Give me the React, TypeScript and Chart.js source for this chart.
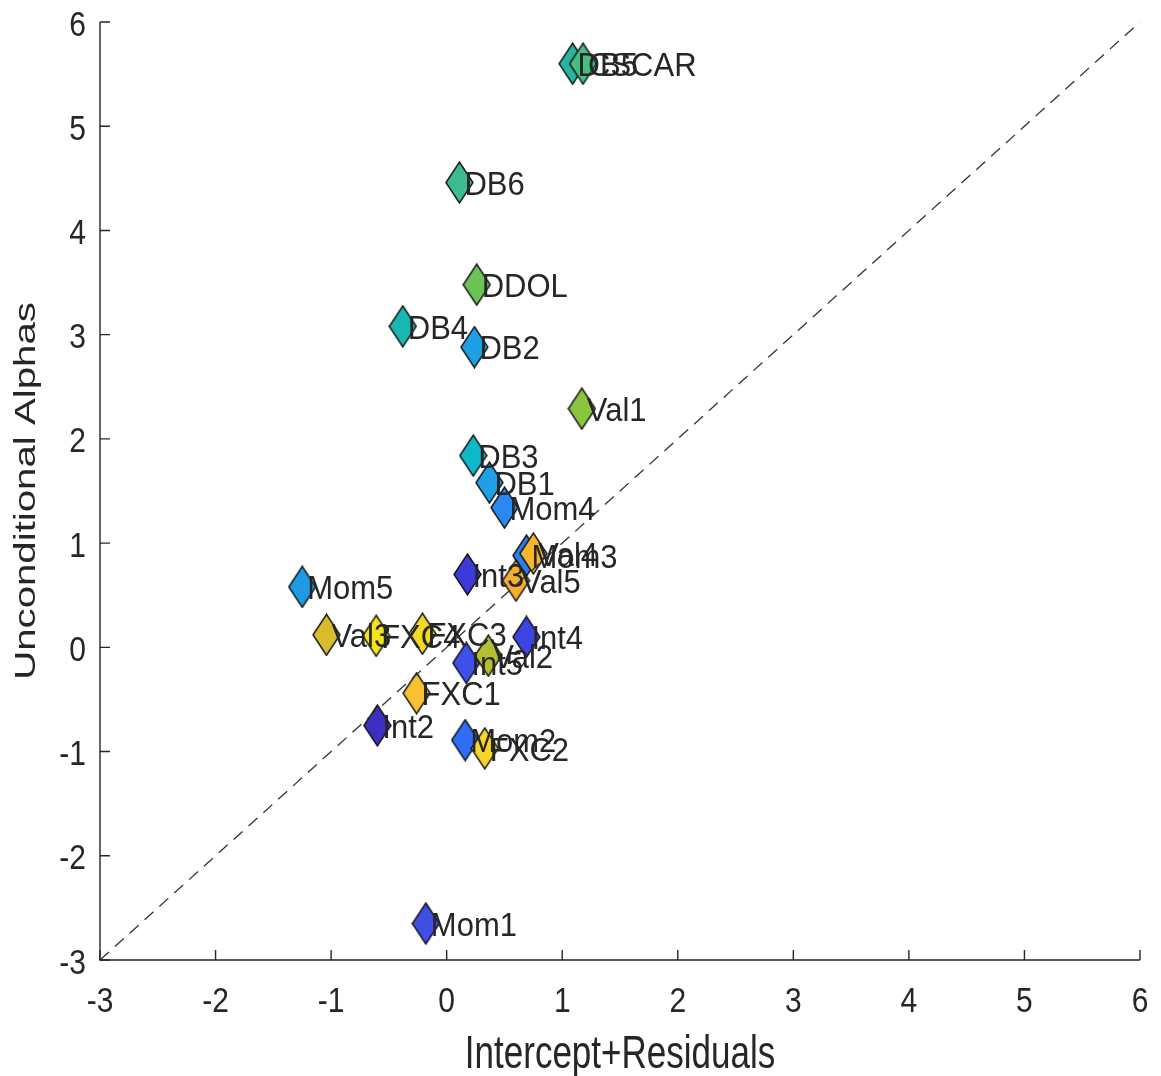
import React, { useEffect, useRef } from "react";
import { Chart, registerables } from "chart.js";

Chart.register(...registerables);

const names = [
  "DB1", "DB2", "DB3", "DB4", "DB5", "DB6", "DDOL", "CSCAR",
  "Mom1", "Mom2", "Mom3", "Mom4", "Mom5",
  "Int2", "Int3", "Int4", "Int5",
  "Val1", "Val2", "Val3", "Val4", "Val5",
  "FXC1", "FXC2", "FXC3", "FXC4",
];
const xValues = [
  0.37, 0.24, 0.23, -0.38, 1.09, 0.11, 0.26, 1.18,
  -0.18, 0.16, 0.69, 0.5, -1.25,
  -0.6, 0.18, 0.69, 0.17,
  1.17, 0.36, -1.04, 0.75, 0.6,
  -0.26, 0.33, -0.21, -0.61,
];
const yValues = [
  1.58, 2.88, 1.84, 3.08, 5.6, 4.46, 3.48, 5.6,
  -2.65, -0.89, 0.88, 1.34, 0.58,
  -0.75, 0.7, 0.1, -0.15,
  2.29, -0.08, 0.12, 0.9, 0.64,
  -0.44, -0.97, 0.13, 0.11,
];
const markerColors = [
  "#1e9fe6", "#1d9fe3", "#0db8c8", "#19b7b2", "#27b5a0", "#3bbb8e", "#6cc456", "#48bf80",
  "#3f4fe3", "#2f6ef2", "#2a80ea", "#2a88f0", "#1f9be2",
  "#3c2fc2", "#3c3ad8", "#3e44e2", "#3e50ea",
  "#8bc540", "#b4bf32", "#d8bc2e", "#f6b530", "#f8ae32",
  "#f8c032", "#f6d52a", "#f2d926", "#f5e41c",
];
const tickValues = [-3, -2, -1, 0, 1, 2, 3, 4, 5, 6];
const diagonal = [-3, 6];
const xTitle = "Intercept+Residuals";
const yTitle = "Unconditional Alphas";

const FONT = '"Liberation Sans", Arial, sans-serif';
const TEXT_COLOR = "#262626";

function makeDiamond(color: string): HTMLCanvasElement {
  const w = 29;
  const h = 43;
  const c = document.createElement("canvas");
  c.width = w;
  c.height = h;
  const ctx = c.getContext("2d")!;
  ctx.beginPath();
  ctx.moveTo(w / 2, 1);
  ctx.lineTo(w - 1, h / 2);
  ctx.lineTo(w / 2, h - 1);
  ctx.lineTo(1, h / 2);
  ctx.closePath();
  ctx.fillStyle = color;
  ctx.fill();
  ctx.strokeStyle = "#111111";
  ctx.lineWidth = 1.4;
  ctx.stroke();
  return c;
}

function drawText(
  ctx: CanvasRenderingContext2D,
  text: string,
  x: number,
  y: number,
  size: number,
  sy: number,
  align: CanvasTextAlign,
  rotate = 0
) {
  ctx.save();
  ctx.translate(x, y);
  if (rotate) ctx.rotate(rotate);
  if (rotate) ctx.scale(sy, 1);
  else ctx.scale(1, sy);
  ctx.font = `${size}px ${FONT}`;
  ctx.fillStyle = TEXT_COLOR;
  ctx.textAlign = align;
  ctx.textBaseline = "middle";
  ctx.fillText(text, 0, 0);
  ctx.restore();
}

const axesPlugin = {
  id: "matlabAxes",
  afterDatasetsDraw(chart: any) {
    const ctx: CanvasRenderingContext2D = chart.ctx;
    const xs = chart.scales.x;
    const ys = chart.scales.y;
    const area = chart.chartArea;

    // point labels
    const meta = chart.getDatasetMeta(1);
    meta.data.forEach((pt: any, i: number) => {
      drawText(ctx, names[i], pt.x + 5, pt.y + 3, 31, 1.08, "left");
    });

    // axes lines
    ctx.save();
    ctx.strokeStyle = TEXT_COLOR;
    ctx.lineWidth = 1.4;
    ctx.beginPath();
    ctx.moveTo(area.left, area.top);
    ctx.lineTo(area.left, area.bottom);
    ctx.lineTo(area.right, area.bottom);
    ctx.stroke();
    // inward ticks
    ctx.beginPath();
    tickValues.forEach((v) => {
      const px = xs.getPixelForValue(v);
      ctx.moveTo(px, area.bottom);
      ctx.lineTo(px, area.bottom - 10);
      const py = ys.getPixelForValue(v);
      ctx.moveTo(area.left, py);
      ctx.lineTo(area.left + 10, py);
    });
    ctx.stroke();
    ctx.restore();

    // tick labels
    tickValues.forEach((v) => {
      const px = xs.getPixelForValue(v);
      drawText(ctx, String(v), px, area.bottom + 42, 30, 1.15, "center");
      const py = ys.getPixelForValue(v);
      drawText(ctx, String(v), area.left - 14, py + 4, 30, 1.15, "right");
    });

    // axis titles
    drawText(ctx, xTitle, (area.left + area.right) / 2, area.bottom + 95, 35, 1.3, "center");
    drawText(ctx, yTitle, 27, (area.top + area.bottom) / 2, 30, 1.34, "center", -Math.PI / 2);
  },
};

export default function App() {
  const ref = useRef<HTMLCanvasElement | null>(null);

  useEffect(() => {
    if (!ref.current) return;
    const points = xValues.map((x, i) => ({ x, y: yValues[i] }));
    const styles = markerColors.map((c) => makeDiamond(c));
    const chart = new Chart(ref.current, {
      type: "scatter",
      data: {
        datasets: [
          {
            type: "line",
            data: diagonal.map((v) => ({ x: v, y: v })),
            borderColor: "#333333",
            borderWidth: 1.3,
            borderDash: [12, 8],
            pointRadius: 0,
            fill: false,
          } as any,
          {
            data: points,
            pointStyle: styles as any,
            pointRadius: 14,
            backgroundColor: markerColors,
          },
        ],
      },
      options: {
        responsive: false,
        animation: false,
        layout: { padding: { top: 22, right: 21, left: 0, bottom: 0 } },
        plugins: { legend: { display: false }, tooltip: { enabled: false } },
        scales: {
          x: {
            type: "linear",
            min: -3,
            max: 6,
            ticks: { display: false, stepSize: 1 },
            grid: { display: false },
            border: { display: false },
            afterFit: (s: any) => {
              s.height = 116;
            },
          },
          y: {
            type: "linear",
            min: -3,
            max: 6,
            ticks: { display: false, stepSize: 1 },
            grid: { display: false },
            border: { display: false },
            afterFit: (s: any) => {
              s.width = 100;
            },
          },
        },
      },
      plugins: [axesPlugin],
    });
    return () => chart.destroy();
  }, []);

  return (
    <div style={{ position: "fixed", left: 0, top: 0, width: 1161, height: 1076, background: "#fff" }}>
      <canvas ref={ref} width={1161} height={1076} />
    </div>
  );
}
